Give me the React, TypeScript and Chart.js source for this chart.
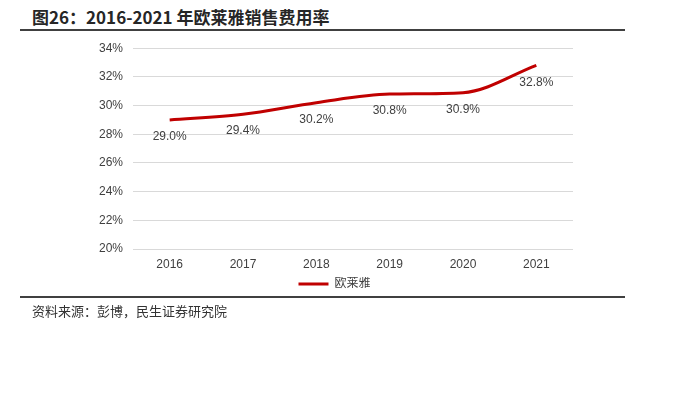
import React, { useEffect, useRef } from "react";
import { Chart, registerables } from "chart.js";

Chart.register(...registerables);

const title = "图26：2016-2021 年欧莱雅销售费用率";
const source = "资料来源：彭博，民生证券研究院";
const categories = ["2016", "2017", "2018", "2019", "2020", "2021"];
const seriesName = "欧莱雅";
const values = [29.0, 29.4, 30.2, 30.8, 30.9, 32.8];
const yMin = 20;
const yMax = 34;
const yStep = 2;

const FONT = "'Liberation Sans', Arial, 'Noto Sans CJK SC', sans-serif";

const labelPlugin = {
  id: "pointLabels",
  afterDatasetsDraw(chart: any) {
    const ctx = chart.ctx;
    const meta = chart.getDatasetMeta(0);
    ctx.save();
    ctx.font = `12px ${FONT}`;
    ctx.fillStyle = "#404040";
    ctx.textAlign = "center";
    ctx.textBaseline = "middle";
    meta.data.forEach((pt: any, i: number) => {
      ctx.fillText(values[i].toFixed(1) + "%", pt.x, pt.y + 17);
    });
    ctx.restore();
  },
};

export default function App() {
  const ref = useRef<HTMLCanvasElement | null>(null);
  useEffect(() => {
    if (!ref.current) return;
    const chart = new Chart(ref.current, {
      type: "line",
      data: {
        labels: categories,
        datasets: [
          {
            label: seriesName,
            data: values,
            borderColor: "#C00000",
            backgroundColor: "#C00000",
            borderWidth: 3,
            pointRadius: 0,
            cubicInterpolationMode: "monotone",
          },
        ],
      },
      options: {
        animation: false,
        responsive: false,
        maintainAspectRatio: false,
        layout: { padding: { left: 0, right: 31, top: 4, bottom: 0 } },
        plugins: {
          tooltip: { enabled: false },
          legend: {
            position: "bottom",
            labels: {
              boxWidth: 30,
              boxHeight: 0,
              color: "#404040",
              font: { family: FONT, size: 12 },
              padding: 1,
            },
          },
        },
        scales: {
          x: {
            offset: true,
            grid: { display: false, drawTicks: false },
            border: { display: false },
            ticks: { color: "#404040", font: { family: FONT, size: 12 }, padding: 8 },
            afterFit: (scale: any) => {
              scale.height = 28;
            },
          },
          y: {
            min: yMin,
            max: yMax,
            grid: { color: "#d9d9d9", drawTicks: false, lineWidth: 1 },
            border: { display: false },
            ticks: {
              stepSize: yStep,
              color: "#404040",
              font: { family: FONT, size: 12 },
              padding: 10,
              callback: (v: any) => v + "%",
            },
            afterFit: (scale: any) => {
              scale.width = 133;
            },
          },
          yRight: {
            position: "right",
            grid: { display: false, drawTicks: false },
            border: { display: false },
            ticks: { display: false },
            afterFit: (scale: any) => {
              scale.width = 96;
            },
          },
        },
      },
      plugins: [labelPlugin],
    });
    return () => chart.destroy();
  }, []);

  return (
    <div
      style={{
        position: "fixed",
        left: 0,
        top: 0,
        width: 700,
        height: 405,
        background: "#fff",
        fontFamily: "'Noto Sans CJK SC', sans-serif",
      }}
    >
      <div
        style={{
          position: "absolute",
          left: 32,
          top: 5,
          fontSize: 17,
          fontWeight: 700,
          color: "#262626",
          lineHeight: "24px",
          whiteSpace: "nowrap",
        }}
      >
        {title}
      </div>
      <div
        style={{
          position: "absolute",
          left: 20,
          top: 29,
          width: 605,
          height: 2,
          background: "#404040",
        }}
      />
      <canvas
        ref={ref}
        width={700}
        height={269}
        style={{ position: "absolute", left: 0, top: 31, width: 700, height: 269 }}
      />
      <div
        style={{
          position: "absolute",
          left: 20,
          top: 296,
          width: 605,
          height: 2,
          background: "#404040",
        }}
      />
      <div
        style={{
          position: "absolute",
          left: 32,
          top: 302,
          fontSize: 13,
          color: "#333",
          lineHeight: "18px",
          whiteSpace: "nowrap",
        }}
      >
        {source}
      </div>
    </div>
  );
}
